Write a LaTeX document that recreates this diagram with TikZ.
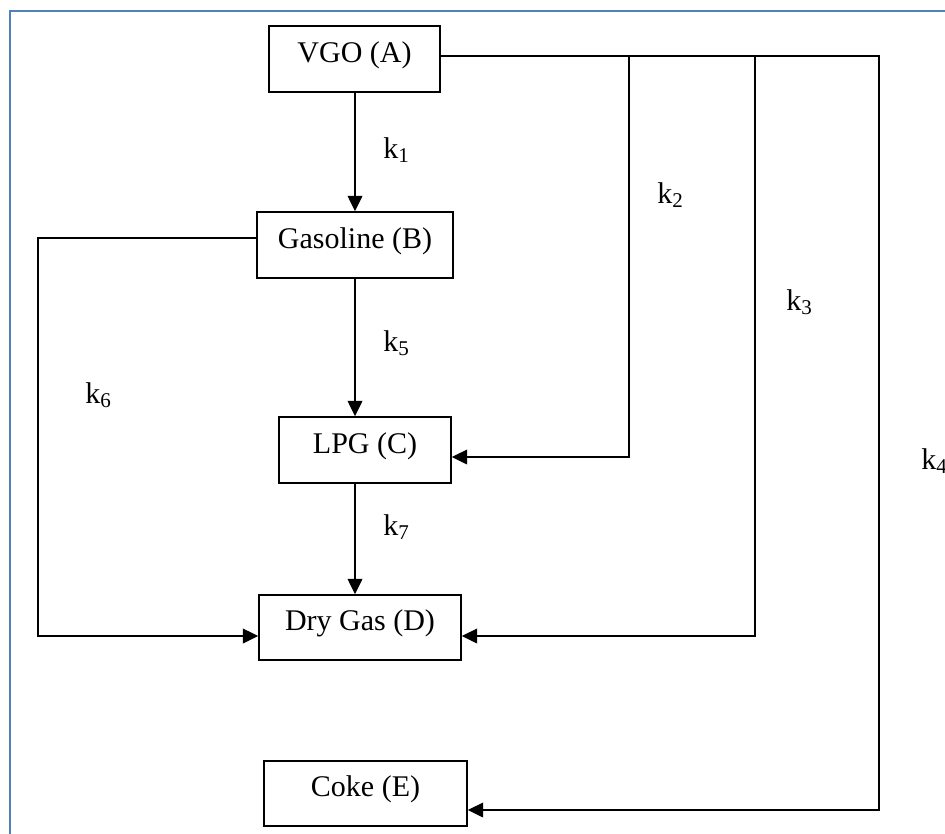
\documentclass[tikz,border=0pt]{standalone}
\usepackage{fontspec}
\setmainfont{Liberation Serif}
\usetikzlibrary{arrows.meta}
\definecolor{framebl}{RGB}{79,129,189}
\begin{document}
\begin{tikzpicture}[x=0.75pt,y=-0.75pt,
  every node/.style={font=\fontsize{22.5}{27}\selectfont},
  box/.style={draw, line width=1.2pt, inner sep=0pt, minimum height=49.5pt,
    text height=16.5pt, text depth=12pt},
  conn/.style={line width=1.2pt},
  arr/.style={conn, -{Triangle[length=11.5pt,width=11pt]}},
  klab/.style={anchor=base west, inner sep=0pt}]
\useasboundingbox (0,0) rectangle (945,833);
\clip (0,0) rectangle (945,833);
% frame
\draw[framebl, line width=1.5pt] (10,840) -- (10,11) -- (950,11);
% boxes
\node[box, minimum width=128.25pt] (A) at (354.5,59) {VGO (A)};
\node[box, minimum width=147pt] (B) at (355,245) {Gasoline (B)};
\node[box, minimum width=129pt] (C) at (365,450) {LPG (C)};
\node[box, minimum width=151.5pt, minimum height=48.75pt] (D) at (360,627.5) {Dry Gas (D)};
\node[box, minimum width=152.25pt, minimum height=48.75pt] (E) at (365.5,793.5) {Coke (E)};
% corner coordinates
\coordinate (t2) at (629,56);
\coordinate (b2) at (629,457);
\coordinate (t3) at (755,56);
\coordinate (b3) at (755,636);
\coordinate (t4) at (879,56);
\coordinate (b4) at (879,810);
\coordinate (g) at (38,238);
\coordinate (l) at (38,636);
\coordinate (vx) at (355,0);
% vertical chain
\draw[arr] (vx |- A.south) -- (vx |- B.north);
\draw[arr] (vx |- B.south) -- (vx |- C.north);
\draw[arr] (vx |- C.south) -- (vx |- D.north);
% right branches
\draw[arr] (A.east |- t4) -- (t4) -- (b4) -- (E.east |- b4);
\draw[arr] (t2) -- (b2) -- (C.east |- b2);
\draw[arr] (t3) -- (b3) -- (D.east |- b3);
% left branch
\draw[arr] (B.west |- g) -- (g) -- (l) -- (D.west |- l);
% rate constants
\node[klab] (k1) at (383,158) {k\textsubscript{1}};
\node[klab] (k2) at (657,203) {k\textsubscript{2}};
\node[klab] (k3) at (786,310) {k\textsubscript{3}};
\node[klab] (k4) at (921,469) {k\textsubscript{4}};
\node[klab] (k5) at (383,351) {k\textsubscript{5}};
\node[klab] (k6) at (85,403) {k\textsubscript{6}};
\node[klab] (k7) at (383,535) {k\textsubscript{7}};
\end{tikzpicture}
\end{document}
